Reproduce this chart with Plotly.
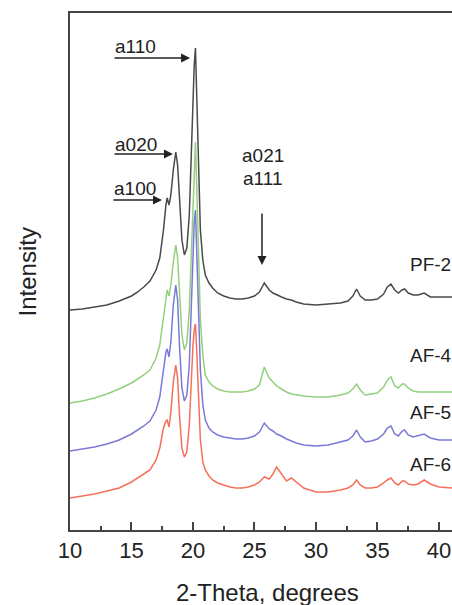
import plotly.graph_objects as go

# 2-Theta grid (degrees)
theta = [10, 11, 12, 13, 14, 15, 15.5, 16, 16.5, 17, 17.3, 17.6, 17.8, 17.9, 18.05, 18.2, 18.4, 18.6,
         18.75, 18.9, 19.1, 19.3, 19.5, 19.7, 19.85, 20.0, 20.1, 20.2, 20.3, 20.45, 20.6, 20.8, 21.0,
         21.3, 21.6, 22.0, 22.5, 23, 23.5, 24, 24.5, 25, 25.4, 25.8, 26.2, 26.5, 26.8, 27.2, 27.6,
         28.0, 28.4, 29, 30, 31, 32, 32.6, 33.0, 33.3, 33.6, 34.0, 34.5, 35.0, 35.5, 35.8, 36.1,
         36.4, 36.7, 37.0, 37.2, 37.5, 37.9, 38.3, 38.8, 39.3, 40, 41, 41.1]

pf2 = [220, 221, 223, 225, 229, 234, 238, 243, 249, 260, 272, 300, 325, 332, 325, 335, 360, 378,
       365, 330, 290, 275, 282, 315, 370, 435, 465, 482, 440, 360, 300, 270, 255,
       247, 242, 237, 234, 232, 231, 231, 232, 234, 238, 247, 240, 237, 235, 233, 231,
       230, 228, 226, 225, 226, 227, 229, 234, 241, 234, 230, 230, 231, 236, 243, 246,
       240, 237, 240, 241, 237, 235, 235, 237, 233, 233, 233, 233]

af4 = [127, 129, 132, 136, 141, 147, 151, 155, 160, 172, 185, 215, 235, 240, 234, 245, 268, 285,
       272, 235, 195, 180, 187, 220, 275, 335, 370, 388, 345, 265, 210, 175, 155,
       148, 144, 141, 139, 138, 138, 138, 139, 141, 145, 163, 152, 148, 144, 141, 138,
       136, 135, 134, 133, 133, 135, 137, 141, 146, 140, 135, 136, 137, 143, 150, 153,
       144, 142, 146, 146, 142, 139, 138, 138, 138, 138, 138, 138]

af5 = [79, 81, 83, 86, 90, 96, 100, 104, 109, 120, 133, 160, 178, 181, 173, 188, 225, 245,
       230, 185, 142, 129, 135, 165, 220, 280, 308, 320, 285, 215, 160, 125, 110,
       102, 98, 95, 93, 92, 91, 91, 92, 94, 98, 107, 101, 99, 96, 94, 91,
       89, 87, 85, 84, 85, 88, 90, 94, 100, 93, 88, 89, 91, 96, 102, 104,
       96, 94, 99, 100, 95, 93, 94, 96, 92, 90, 90, 90]

af6 = [32, 34, 36, 39, 42, 48, 52, 56, 60, 70, 82, 102, 109, 110, 103, 118, 148, 165,
       152, 115, 82, 73, 78, 105, 150, 185, 200, 206, 180, 130, 90, 68, 60,
       54, 50, 47, 45, 43, 42, 42, 43, 45, 48, 53, 51, 56, 63, 56, 49,
       52, 48, 42, 38, 38, 40, 42, 45, 50, 45, 42, 42, 43, 47, 50, 52,
       47, 45, 49, 49, 46, 45, 46, 50, 46, 43, 42, 42]

series_names = ["PF-2", "AF-4", "AF-5", "AF-6"]
series_values = [pf2, af4, af5, af6]
series_colors = ["#4a4a4a", "#93d07e", "#7a7ad6", "#f5705a"]
label_x = 37.5
label_y = [266, 175, 118, 66]

FONT = "Arial, Liberation Sans, sans-serif"
fig = go.Figure()
for name, vals, col in zip(series_names, series_values, series_colors):
    fig.add_trace(go.Scatter(x=theta, y=vals, mode="lines", name=name,
                             line=dict(color=col, width=1.5), showlegend=False))

ann = []
for name, ly in zip(series_names, label_y):
    ann.append(dict(x=label_x, y=ly, xref="x", yref="y", text=name, showarrow=False,
                    xanchor="left", yanchor="middle", font=dict(family=FONT, size=19, color="#222")))

# horizontal arrows with labels above
arrows = [("a110", 13.5, 19.76, 472, 484), ("a020", 13.5, 18.37, 376, 386), ("a100", 13.41, 17.48, 330, 342)]
for txt, x0, x1, yline, ytext in arrows:
    ann.append(dict(x=x1, y=yline, ax=x0, ay=yline, xref="x", yref="y", axref="x", ayref="y",
                    text="", showarrow=True, arrowhead=2, arrowsize=1.2, arrowwidth=1.5,
                    arrowcolor="#222", standoff=0))
    ann.append(dict(x=x0, y=ytext, xref="x", yref="y", text=txt, showarrow=False,
                    xanchor="left", yanchor="middle", font=dict(family=FONT, size=19, color="#222")))

ann.append(dict(x=25.61, y=265, ax=25.61, ay=318, xref="x", yref="y", axref="x", ayref="y",
                text="", showarrow=True, arrowhead=2, arrowsize=1.2, arrowwidth=1.5,
                arrowcolor="#222", standoff=0))
for txt, ty in [("a021", 375), ("a111", 352)]:
    ann.append(dict(x=25.69, y=ty, xref="x", yref="y", text=txt, showarrow=False,
                    xanchor="center", yanchor="middle", font=dict(family=FONT, size=19, color="#222")))

ann.append(dict(x=0.516, y=-0.12, xref="paper", yref="paper", text="2-Theta, degrees",
                showarrow=False, xanchor="center", yanchor="middle",
                font=dict(family=FONT, size=24, color="#222")))
ann.append(dict(x=-0.11, y=0.5, xref="paper", yref="paper", text="Intensity", textangle=-90,
                showarrow=False, xanchor="center", yanchor="middle",
                font=dict(family=FONT, size=24, color="#222")))

fig.update_layout(
    width=452, height=605,
    margin=dict(l=70, r=0, t=13, b=75),
    paper_bgcolor="white", plot_bgcolor="white",
    annotations=ann,
    xaxis=dict(range=[10, 41.06], tickmode="array", tickvals=[10, 15, 20, 25, 30, 35, 40],
               ticks="inside", ticklen=8, tickwidth=1.5, tickcolor="#444",
               minor=dict(ticks="inside", ticklen=4, tickwidth=1.5, tickcolor="#444",
                          tickvals=[12.5, 17.5, 22.5, 27.5, 32.5, 37.5]),
               showline=True, linecolor="#444", linewidth=2, mirror=True,
               showgrid=False, zeroline=False,
               tickfont=dict(family=FONT, size=22, color="#222")),
    yaxis=dict(range=[0, 517], showticklabels=False, ticks="", showline=True,
               linecolor="#444", linewidth=2, showgrid=False, zeroline=False),
)
fig.write_html("out.html")
